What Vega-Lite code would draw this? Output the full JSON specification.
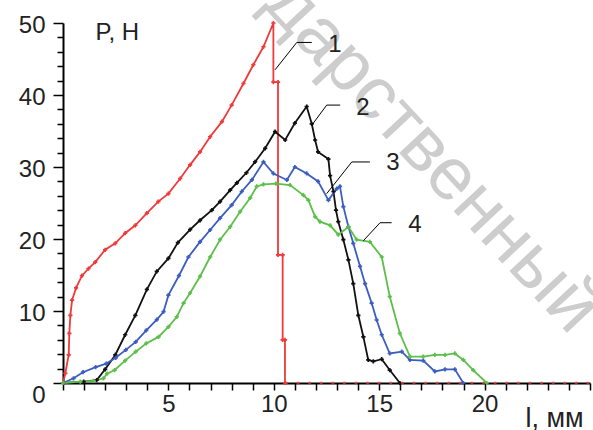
{
  "$schema": "https://vega.github.io/schema/vega-lite/v6.json",
  "width": 527,
  "height": 360,
  "autosize": {"type": "none"},
  "padding": {"left": 63, "top": 23, "right": 3, "bottom": 47},
  "background": "white",
  "config": {"view": {"stroke": null}, "font": "Liberation Sans", "axis": {"labelOverlap": false}},
  "datasets": {
    "curves": [
      {"s": "1", "x": 0, "y": 0}, {"s": "1", "x": 0.11, "y": 1.35}, {"s": "1", "x": 0.27, "y": 3.9}, {"s": "1", "x": 0.3, "y": 6.9}, {"s": "1", "x": 0.35, "y": 9.4}, {"s": "1", "x": 0.43, "y": 11.5}, {"s": "1", "x": 0.62, "y": 13.2}, {"s": "1", "x": 0.9, "y": 14.9}, {"s": "1", "x": 1.21, "y": 15.9}, {"s": "1", "x": 1.53, "y": 16.8}, {"s": "1", "x": 2.0, "y": 18.5}, {"s": "1", "x": 2.48, "y": 19.4}, {"s": "1", "x": 2.95, "y": 20.8}, {"s": "1", "x": 3.43, "y": 21.9}, {"s": "1", "x": 3.98, "y": 23.6}, {"s": "1", "x": 4.52, "y": 25.2}, {"s": "1", "x": 5.0, "y": 26.3}, {"s": "1", "x": 5.56, "y": 28.4}, {"s": "1", "x": 6.03, "y": 30.3}, {"s": "1", "x": 6.5, "y": 32.1}, {"s": "1", "x": 6.98, "y": 34.2}, {"s": "1", "x": 7.54, "y": 36.3}, {"s": "1", "x": 8.0, "y": 38.6}, {"s": "1", "x": 8.56, "y": 41.6}, {"s": "1", "x": 9.03, "y": 44.2}, {"s": "1", "x": 9.51, "y": 46.7}, {"s": "1", "x": 9.98, "y": 50.0}, {"s": "1", "x": 9.98, "y": 41.8}, {"s": "1", "x": 10.2, "y": 41.8}, {"s": "1", "x": 10.2, "y": 17.8}, {"s": "1", "x": 10.42, "y": 17.8}, {"s": "1", "x": 10.42, "y": 6.0}, {"s": "1", "x": 10.53, "y": 6.0}, {"s": "1", "x": 10.53, "y": 0},
      {"s": "2", "x": 0, "y": 0}, {"s": "2", "x": 0.98, "y": 0.2}, {"s": "2", "x": 1.6, "y": 0.4}, {"s": "2", "x": 2.0, "y": 1.9}, {"s": "2", "x": 2.48, "y": 3.9}, {"s": "2", "x": 2.95, "y": 6.7}, {"s": "2", "x": 3.43, "y": 9.4}, {"s": "2", "x": 3.98, "y": 13.0}, {"s": "2", "x": 4.45, "y": 15.5}, {"s": "2", "x": 5.0, "y": 17.3}, {"s": "2", "x": 5.45, "y": 19.5}, {"s": "2", "x": 6.03, "y": 21.3}, {"s": "2", "x": 6.5, "y": 22.6}, {"s": "2", "x": 7.06, "y": 24.0}, {"s": "2", "x": 7.45, "y": 25.2}, {"s": "2", "x": 7.93, "y": 26.8}, {"s": "2", "x": 8.25, "y": 27.8}, {"s": "2", "x": 8.7, "y": 29.2}, {"s": "2", "x": 9.11, "y": 30.7}, {"s": "2", "x": 9.59, "y": 32.6}, {"s": "2", "x": 10.06, "y": 34.9}, {"s": "2", "x": 10.54, "y": 33.75}, {"s": "2", "x": 11.0, "y": 36.1}, {"s": "2", "x": 11.56, "y": 38.4}, {"s": "2", "x": 11.8, "y": 36.0}, {"s": "2", "x": 11.96, "y": 33.75}, {"s": "2", "x": 12.1, "y": 32.1}, {"s": "2", "x": 12.59, "y": 31.1}, {"s": "2", "x": 12.67, "y": 28.8}, {"s": "2", "x": 12.83, "y": 26.6}, {"s": "2", "x": 12.95, "y": 24.0}, {"s": "2", "x": 13.06, "y": 22.4}, {"s": "2", "x": 13.3, "y": 19.9}, {"s": "2", "x": 13.54, "y": 17.1}, {"s": "2", "x": 13.77, "y": 13.8}, {"s": "2", "x": 14.01, "y": 9.4}, {"s": "2", "x": 14.25, "y": 6.4}, {"s": "2", "x": 14.48, "y": 3.2}, {"s": "2", "x": 14.72, "y": 3.0}, {"s": "2", "x": 15.12, "y": 3.3}, {"s": "2", "x": 15.5, "y": 1.8}, {"s": "2", "x": 15.98, "y": 0},
      {"s": "3", "x": 0, "y": 0}, {"s": "3", "x": 0.5, "y": 0.65}, {"s": "3", "x": 0.95, "y": 1.5}, {"s": "3", "x": 1.55, "y": 2.2}, {"s": "3", "x": 2.05, "y": 2.7}, {"s": "3", "x": 2.5, "y": 3.5}, {"s": "3", "x": 2.98, "y": 4.6}, {"s": "3", "x": 3.45, "y": 5.7}, {"s": "3", "x": 3.95, "y": 7.3}, {"s": "3", "x": 4.45, "y": 8.8}, {"s": "3", "x": 4.77, "y": 9.9}, {"s": "3", "x": 5.0, "y": 12.2}, {"s": "3", "x": 5.5, "y": 14.9}, {"s": "3", "x": 5.95, "y": 17.5}, {"s": "3", "x": 6.5, "y": 19.6}, {"s": "3", "x": 6.98, "y": 21.25}, {"s": "3", "x": 7.45, "y": 22.9}, {"s": "3", "x": 8.0, "y": 24.7}, {"s": "3", "x": 8.48, "y": 26.6}, {"s": "3", "x": 8.96, "y": 28.2}, {"s": "3", "x": 9.51, "y": 30.7}, {"s": "3", "x": 9.98, "y": 29.1}, {"s": "3", "x": 10.62, "y": 28.2}, {"s": "3", "x": 11.0, "y": 30.0}, {"s": "3", "x": 11.56, "y": 29.1}, {"s": "3", "x": 12.1, "y": 28.0}, {"s": "3", "x": 12.59, "y": 25.4}, {"s": "3", "x": 12.99, "y": 27.0}, {"s": "3", "x": 13.14, "y": 27.3}, {"s": "3", "x": 13.3, "y": 24.5}, {"s": "3", "x": 13.54, "y": 21.7}, {"s": "3", "x": 13.77, "y": 19.4}, {"s": "3", "x": 14.09, "y": 16.2}, {"s": "3", "x": 14.33, "y": 13.8}, {"s": "3", "x": 14.64, "y": 11.1}, {"s": "3", "x": 14.88, "y": 8.75}, {"s": "3", "x": 15.12, "y": 6.7}, {"s": "3", "x": 15.5, "y": 4.1}, {"s": "3", "x": 16.07, "y": 4.35}, {"s": "3", "x": 16.46, "y": 3.2}, {"s": "3", "x": 17.09, "y": 3.1}, {"s": "3", "x": 17.64, "y": 1.6}, {"s": "3", "x": 18.12, "y": 1.9}, {"s": "3", "x": 18.59, "y": 1.9}, {"s": "3", "x": 18.99, "y": 0},
      {"s": "4", "x": 0, "y": 0}, {"s": "4", "x": 0.82, "y": 0.2}, {"s": "4", "x": 1.45, "y": 0.3}, {"s": "4", "x": 1.92, "y": 0.65}, {"s": "4", "x": 2.09, "y": 1.3}, {"s": "4", "x": 2.45, "y": 1.8}, {"s": "4", "x": 2.95, "y": 3.1}, {"s": "4", "x": 3.45, "y": 4.35}, {"s": "4", "x": 3.95, "y": 5.5}, {"s": "4", "x": 4.53, "y": 6.4}, {"s": "4", "x": 5.0, "y": 7.8}, {"s": "4", "x": 5.4, "y": 9.2}, {"s": "4", "x": 5.72, "y": 11.1}, {"s": "4", "x": 6.03, "y": 12.5}, {"s": "4", "x": 6.5, "y": 14.8}, {"s": "4", "x": 6.98, "y": 17.5}, {"s": "4", "x": 7.45, "y": 19.9}, {"s": "4", "x": 7.93, "y": 21.7}, {"s": "4", "x": 8.4, "y": 23.8}, {"s": "4", "x": 8.88, "y": 25.7}, {"s": "4", "x": 9.19, "y": 27.3}, {"s": "4", "x": 9.51, "y": 27.6}, {"s": "4", "x": 10.1, "y": 27.7}, {"s": "4", "x": 10.77, "y": 27.5}, {"s": "4", "x": 11.4, "y": 26.1}, {"s": "4", "x": 11.64, "y": 25.4}, {"s": "4", "x": 11.96, "y": 23.1}, {"s": "4", "x": 12.19, "y": 22.4}, {"s": "4", "x": 12.67, "y": 21.9}, {"s": "4", "x": 13.06, "y": 20.6}, {"s": "4", "x": 13.54, "y": 21.7}, {"s": "4", "x": 13.93, "y": 19.9}, {"s": "4", "x": 14.56, "y": 19.6}, {"s": "4", "x": 15.12, "y": 17.5}, {"s": "4", "x": 15.5, "y": 12.0}, {"s": "4", "x": 15.98, "y": 6.9}, {"s": "4", "x": 16.46, "y": 3.65}, {"s": "4", "x": 17.09, "y": 3.65}, {"s": "4", "x": 17.64, "y": 3.9}, {"s": "4", "x": 18.12, "y": 3.9}, {"s": "4", "x": 18.59, "y": 4.1}, {"s": "4", "x": 18.99, "y": 3.2}, {"s": "4", "x": 19.46, "y": 1.8}, {"s": "4", "x": 20.1, "y": 0}
    ],
    "zeros": [
      {"x": 10.6, "y": 0}, {"x": 11.15, "y": 0}, {"x": 11.7, "y": 0}, {"x": 12.25, "y": 0}, {"x": 12.8, "y": 0}, {"x": 13.35, "y": 0}, {"x": 13.9, "y": 0}, {"x": 14.45, "y": 0}, {"x": 15.0, "y": 0}, {"x": 15.55, "y": 0}, {"x": 16.1, "y": 0}, {"x": 16.65, "y": 0}, {"x": 17.2, "y": 0}, {"x": 17.75, "y": 0}, {"x": 18.3, "y": 0}, {"x": 18.85, "y": 0}, {"x": 19.4, "y": 0}, {"x": 19.95, "y": 0}, {"x": 20.5, "y": 0}, {"x": 21.05, "y": 0}, {"x": 21.6, "y": 0}, {"x": 22.15, "y": 0}, {"x": 22.7, "y": 0}, {"x": 23.25, "y": 0}, {"x": 23.8, "y": 0}, {"x": 24.35, "y": 0}, {"x": 24.9, "y": 0}
    ],
    "leaders": [
      {"k": "1", "x": 11.8, "y": 47.3}, {"k": "1", "x": 11.09, "y": 47.3}, {"k": "1", "x": 10.06, "y": 43.5},
      {"k": "2", "x": 13.15, "y": 38.6}, {"k": "2", "x": 12.51, "y": 38.6}, {"k": "2", "x": 11.8, "y": 35.8},
      {"k": "3", "x": 14.56, "y": 30.7}, {"k": "3", "x": 13.7, "y": 30.7}, {"k": "3", "x": 12.51, "y": 26.3},
      {"k": "4", "x": 15.59, "y": 22.26}, {"k": "4", "x": 15.04, "y": 22.26}, {"k": "4", "x": 14.25, "y": 19.76}
    ],
    "labels": [
      {"t": "1", "x": 12.9, "y": 46.9}, {"t": "2", "x": 14.23, "y": 38.2}, {"t": "3", "x": 15.65, "y": 30.6}, {"t": "4", "x": 16.7, "y": 21.9}
    ],
    "mark": [
      {"t": "дарственный", "x": 10.2, "y": 54.5}
    ]
  },
  "encoding": {
    "x": {
      "field": "x", "type": "quantitative",
      "scale": {"domain": [0, 25], "nice": false},
      "axis": {
        "values": [0,1,2,3,4,5,6,7,8,9,10,11,12,13,14,15,16,17,18,19,20,21,22,23,24,25],
        "labelExpr": "datum.value % 5 == 0 && datum.value > 0 && datum.value < 25 ? datum.label : ''",
        "labelOverlap": false,
        "grid": false,
        "domainColor": "#000", "domainWidth": 2,
        "tickColor": "#000", "tickWidth": 1.5,
        "tickSize": 7,
        "labelFontSize": 24, "labelColor": "#222", "labelPadding": 2, "labelFlush": false,
        "title": "l, мм", "titleFontSize": 27, "titleFontWeight": "normal", "titleColor": "#222",
        "titleX": 462, "titleY": 43, "titleAlign": "left", "titleBaseline": "alphabetic"
      }
    },
    "y": {
      "field": "y", "type": "quantitative",
      "scale": {"domain": [0, 50], "nice": false},
      "axis": {
        "values": [0,2,4,6,8,10,12,14,16,18,20,22,24,26,28,30,32,34,36,38,40,42,44,46,48,50],
        "labelExpr": "datum.value % 10 == 0 ? datum.label : ''",
        "labelOverlap": false,
        "grid": false,
        "domainColor": "#000", "domainWidth": 2,
        "tickColor": "#000", "tickWidth": 1.5,
        "tickSize": {"condition": {"test": "datum.value % 10 == 0", "value": 10}, "value": 6},
        "labelOffset": {"condition": {"test": "datum.value == 0", "value": 12}, "value": 2},
        "labelFontSize": 24, "labelColor": "#222", "labelPadding": 8, "labelFlush": false,
        "title": "P, H", "titleAngle": 0, "titleFontSize": 24, "titleFontWeight": "normal", "titleColor": "#222",
        "titleX": 32, "titleY": 16, "titleAlign": "left", "titleBaseline": "alphabetic"
      }
    }
  },
  "layer": [
    {
      "data": {"name": "mark"},
      "mark": {"type": "text", "angle": 47, "align": "left", "baseline": "middle", "fontSize": 74, "color": "#cdcdcd", "font": "Liberation Sans"},
      "encoding": {
        "text": {"field": "t"}
      }
    },
    {
      "data": {"name": "curves"},
      "mark": {"type": "line", "strokeWidth": 1.8, "point": {"shape": "cross", "size": 18, "filled": true}},
      "encoding": {
        "color": {
          "field": "s", "type": "nominal", "legend": null,
          "scale": {"domain": ["1", "2", "3", "4"], "range": ["#f03a3a", "#111111", "#3b5dbf", "#5cbf4a"]}
        },
        "order": {"value": null}
      }
    },
    {
      "data": {"name": "zeros"},
      "mark": {"type": "point", "shape": "circle", "size": 10, "filled": true, "color": "#f03a3a"},
      "encoding": {}
    },
    {
      "data": {"name": "leaders"},
      "mark": {"type": "line", "strokeWidth": 1, "color": "#000"},
      "encoding": {
        "detail": {"field": "k"},
        "order": {"value": null}
      }
    },
    {
      "data": {"name": "labels"},
      "mark": {"type": "text", "fontSize": 24, "align": "center", "baseline": "middle", "color": "#222", "font": "Liberation Sans"},
      "encoding": {
        "text": {"field": "t"}
      }
    }
  ]
}
